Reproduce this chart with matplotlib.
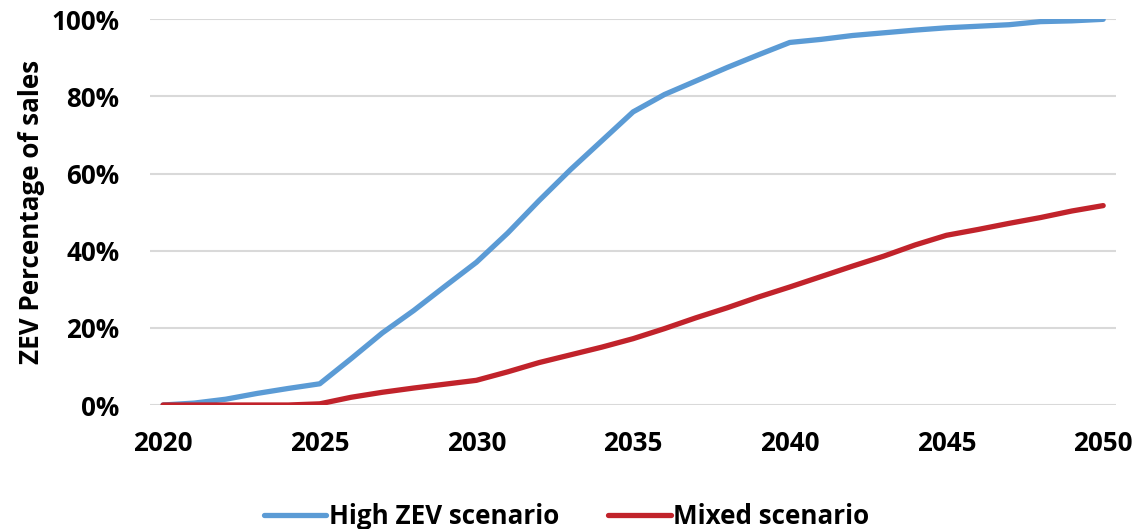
import matplotlib
matplotlib.use("Agg")
import matplotlib.pyplot as plt
import numpy as np

# Anos e percentuais de vendas ZEV
anos = list(range(2020, 2051))

high_zev = [0, 0.5, 1.5, 3, 4.3, 5.5, 12, 18.7, 24.5, 30.8,
            37, 44.6, 53, 61, 68.5, 76, 80.5, 84, 87.5, 90.8,
            94, 94.8, 95.8, 96.5, 97.2, 97.8, 98.2, 98.6, 99.4, 99.6,
            100]

mixed = [0, 0, 0, 0, 0, 0.3, 2, 3.3, 4.4, 5.4,
         6.4, 8.6, 11, 13, 15, 17.2, 19.8, 22.6, 25.2, 28,
         30.6, 33.3, 36, 38.6, 41.5, 44, 45.5, 47.1, 48.6, 50.3,
         51.7]

rotulos_x = [2020, 2025, 2030, 2035, 2040, 2045, 2050]
rotulos_y = [0, 20, 40, 60, 80, 100]

plt.rcParams['font.family'] = ['Open Sans', 'DejaVu Sans']
plt.rcParams['font.weight'] = 'bold'

fig = plt.figure(figsize=(11.47, 5.29), dpi=100)
ax = fig.add_axes([0.1308, 0.2344, 0.8422, 0.7291])

ax.plot(anos, high_zev, color='#5B9BD5', linewidth=3.8, label='High ZEV scenario',
        solid_capstyle='round', zorder=3)
ax.plot(anos, mixed, color='#C1232B', linewidth=3.8, label='Mixed scenario',
        solid_capstyle='round', zorder=3)

ax.set_xlim(2019.585, 2050.41)
ax.set_ylim(0, 100)
ax.set_xticks(rotulos_x)
ax.set_yticks(rotulos_y)
ax.set_yticklabels([f'{v}%' for v in rotulos_y])
ax.tick_params(axis='both', length=0, labelsize=18.7)
ax.tick_params(axis='x', pad=18)
ax.tick_params(axis='y', pad=22)
for lbl in ax.get_xticklabels() + ax.get_yticklabels():
    lbl.set_fontweight('bold')

ax.grid(axis='y', color='#D9D9D9', linewidth=1.5, zorder=0)
ax.set_axisbelow(True)
for s in ax.spines.values():
    s.set_visible(False)

ax.set_ylabel('ZEV Percentage of sales', fontsize=18.7, fontweight='bold', labelpad=5)

fig.legend(loc='lower center', bbox_to_anchor=(0.494, -0.047), ncol=2, frameon=False,
           prop={'size': 18.7, 'weight': 'bold'}, handlelength=2.4, handletextpad=0.1,
           columnspacing=1.9)

plt.savefig('out.png', dpi=100)
